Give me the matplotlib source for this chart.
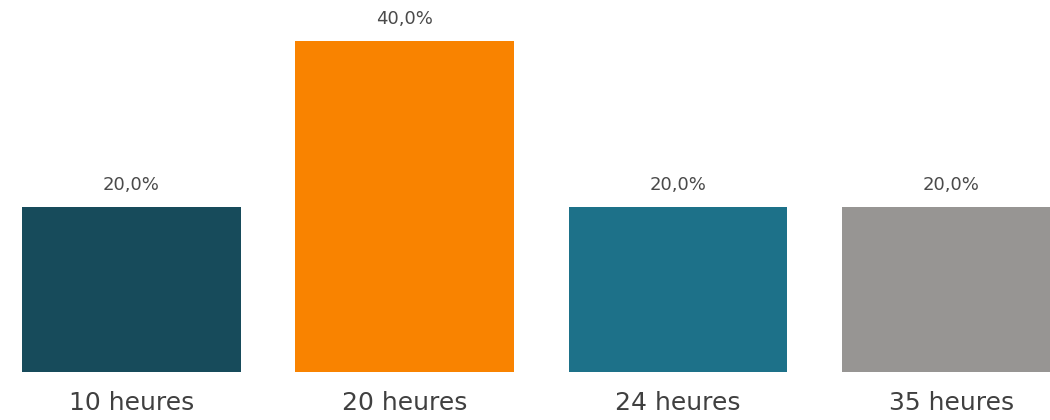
import matplotlib
matplotlib.use('Agg')
import matplotlib.pyplot as plt

# Données
categories = ['10 heures', '20 heures', '24 heures', '35 heures']
valeurs = [20.0, 40.0, 20.0, 20.0]
couleurs = ['#174B5B', '#F98300', '#1D7189', '#979593']

plt.rcParams['font.family'] = ['DejaVu Sans']

fig = plt.figure(figsize=(10.5, 4.2), dpi=100)
ax = fig.add_axes([0, 48 / 420, 1, 331 / 420])

x = range(len(categories))
barres = ax.bar(x, valeurs, width=0.8, color=couleurs)

# Étiquettes de valeur au-dessus des barres
for b, v in zip(barres, valeurs):
    ax.annotate(f"{v:.1f}%".replace('.', ','),
                (b.get_x() + b.get_width() / 2, b.get_height()),
                xytext=(0, 9), textcoords='offset points',
                ha='center', va='bottom', fontsize=13, color='#4a4a4a',
                annotation_clip=False)

ax.set_xlim(-131.5 / 273.3, (1050 - 131.5) / 273.3)
ax.set_ylim(0, 40)
ax.set_xticks(list(x))
ax.set_xticklabels(categories, fontsize=18, color='#404040')
ax.tick_params(axis='x', length=0, pad=14)
ax.set_yticks([])
for s in ax.spines.values():
    s.set_visible(False)

fig.savefig('out.png', dpi=100)
